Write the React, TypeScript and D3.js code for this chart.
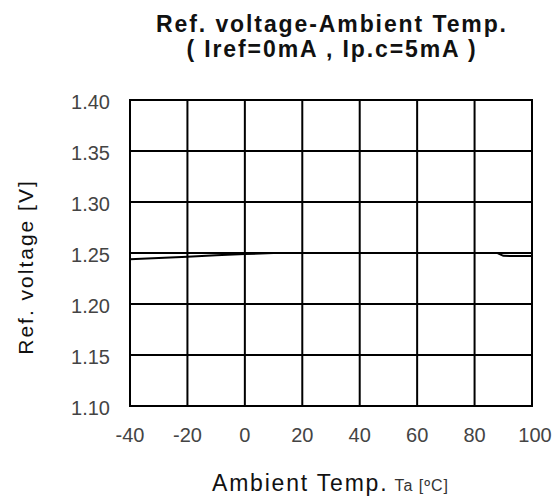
import { line, scaleLinear } from "d3";

const temps = [-40, -30, -20, -10, 0, 10, 20, 40, 60, 80, 88, 90, 100];
const refVoltage = [
  1.2439, 1.2452, 1.2464, 1.2479, 1.249, 1.2499, 1.25, 1.25, 1.25, 1.25,
  1.2499, 1.2472, 1.247
];
const xTicks = [-40, -20, 0, 20, 40, 60, 80, 100];
const yTicks = [1.1, 1.15, 1.2, 1.25, 1.3, 1.35, 1.4];

const width = 553;
const height = 500;
const plot = { left: 130, right: 532, top: 100, bottom: 406 };
const font = "'Liberation Sans', Arial, sans-serif";

function App() {
  const x = scaleLinear().domain([-40, 100]).range([plot.left, plot.right]);
  const y = scaleLinear().domain([1.1, 1.4]).range([plot.bottom, plot.top]);

  const points = temps.map((t, i) => [t, refVoltage[i]] as [number, number]);
  const path = line<[number, number]>()
    .x((d) => x(d[0]))
    .y((d) => y(d[1]))(points);

  const centerX = (plot.left + plot.right) / 2;

  return (
    <svg
      width={width}
      height={height}
      style={{ position: "absolute", left: 0, top: 0, background: "#fff" }}
      fontFamily={font}
    >
      <text
        x={centerX + 1}
        y={32}
        textAnchor="middle"
        fontSize={23}
        fontWeight="bold"
        letterSpacing={1.9}
        fill="#111"
      >
        Ref. voltage-Ambient Temp.
      </text>
      <text
        x={centerX + 1}
        y={57}
        textAnchor="middle"
        fontSize={23}
        fontWeight="bold"
        letterSpacing={1.9}
        fill="#111"
      >
        ( Iref=0mA , Ip.c=5mA )
      </text>

      {xTicks.slice(1, -1).map((t) => (
        <line
          key={`vx-${t}`}
          x1={x(t)}
          x2={x(t)}
          y1={plot.top}
          y2={plot.bottom}
          stroke="#000"
          strokeWidth={2}
        />
      ))}
      {yTicks.slice(1, -1).map((v) => (
        <line
          key={`hy-${v}`}
          x1={plot.left}
          x2={plot.right}
          y1={y(v)}
          y2={y(v)}
          stroke="#000"
          strokeWidth={2}
        />
      ))}
      <rect
        x={plot.left}
        y={plot.top}
        width={plot.right - plot.left}
        height={plot.bottom - plot.top}
        fill="none"
        stroke="#000"
        strokeWidth={2}
      />

      <path d={path ?? ""} fill="none" stroke="#000" strokeWidth={2} />

      {yTicks.map((v) => (
        <text
          key={`yl-${v}`}
          x={110}
          y={y(v) + 9}
          textAnchor="end"
          fontSize={20}
          fill="#444"
        >
          {v.toFixed(2)}
        </text>
      ))}
      {xTicks.map((t) => (
        <text
          key={`xl-${t}`}
          x={x(t) + (t === 100 ? 3 : 0)}
          y={442}
          textAnchor="middle"
          fontSize={20}
          fill="#444"
        >
          {t < 0 ? `-${Math.abs(t)}` : t}
        </text>
      ))}

      <text
        transform={`translate(33, ${267}) rotate(-90)`}
        textAnchor="middle"
        fontSize={21}
        letterSpacing={2}
        fill="#111"
      >
        Ref. voltage [V]
      </text>
      <text x={212} y={491} fontSize={23} letterSpacing={1.8} fill="#111">
        Ambient Temp.
        <tspan fontSize={16} dx={6} fill="#333" letterSpacing={1}>
          Ta [ºC]
        </tspan>
      </text>
    </svg>
  );
}

export default App;
